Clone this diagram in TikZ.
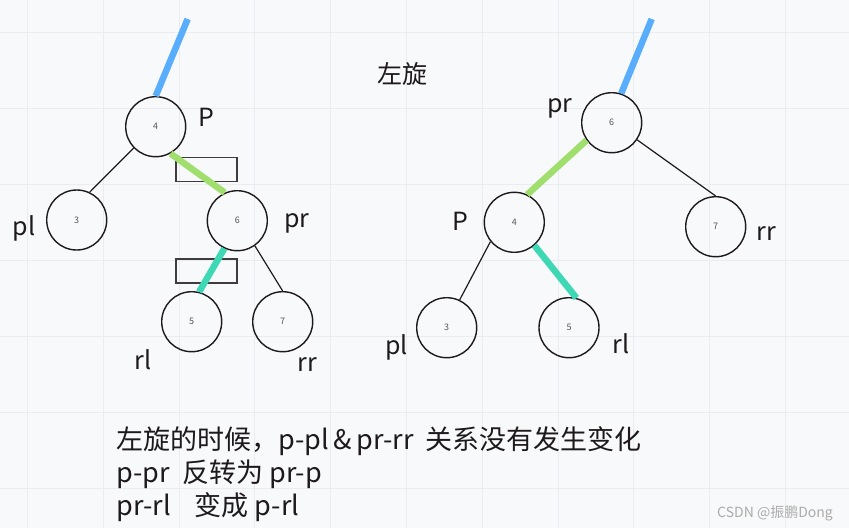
\documentclass[tikz,border=0pt]{standalone}
\usepackage{fontspec}
\setmainfont{Noto Sans CJK SC}
\usepackage{tikz}
\usetikzlibrary{positioning}
\definecolor{ink}{RGB}{30,26,28}
\definecolor{paper}{RGB}{248,249,251}
\definecolor{gridc}{RGB}{234,236,240}
\definecolor{numc}{RGB}{85,85,90}
\definecolor{blu}{RGB}{88,174,252}
\definecolor{grn}{RGB}{160,222,110}
\definecolor{tea}{RGB}{62,216,180}

\begin{document}
\begin{tikzpicture}[x=1pt,y=-1pt,
 nd/.style={circle,draw=ink,line width=1.4pt,minimum size=60pt,inner sep=0pt,font=\fontsize{9}{9}\selectfont,text=numc},
 lbl/.style={font=\fontsize{25}{25}\selectfont,text=ink,inner sep=0pt},
 edge/.style={draw=ink,line width=1.2pt},
 thk/.style={line width=6.5pt},
 mark box/.style={draw=ink!85,line width=1.4pt,minimum width=61pt,minimum height=24pt,inner sep=0pt},
 txt/.style={font=\fontsize{27}{27}\selectfont,text=ink,anchor=base west,inner sep=0pt}]
 \fill[paper] (0,0) rectangle (849,528);
 \useasboundingbox (0,0) rectangle (849,528);
 \foreach \x in {27,103,179,254,330,406,482,558,633,709,785}
   \draw[gridc,line width=0.8pt] (\x,0) -- (\x,528);
 \foreach \y in {32,108,184,260,336,412,488}
   \draw[gridc,line width=0.8pt] (0,\y) -- (849,\y);

 % before: left tree
 \node[nd] (l4) at (155.7,126.7){4};
 \node[nd] (l3) at (76.7,220){3};
 \node[nd] (l6) at (237.3,220.7){6};
 \node[nd] (l5) at (191.7,321.7){5};
 \node[nd] (l7) at (282.7,321.7){7};
 \node[mark box] (b1) at (206.3,169.7){};
 \node[mark box] (b2) at (206.3,270.8){};
 \coordinate (ltop) at (187.7,19);
 \draw[blu,thk] (ltop) -- (l4.90);
 \draw[grn,thk] (l4.-61) -- (l6.114);
 \draw[tea,thk] (l6.-115) -- (l5.76);
 \draw[edge] (l4.-136) -- (l3.65);
 \draw[edge] (l6.-55) -- (l7.90);
 \node[lbl] (lP) at (206.7,117.5){P};
 \node[lbl] (lpl) at (24,228.5){pl};
 \node[lbl] (lpr) at (296.7,223){pr};
 \node[lbl] (lrl) at (142.7,360){rl};
 \node[lbl] (lrr) at (307,364.5){rr};

 \node[font=\fontsize{25}{25}\selectfont,text=ink] (ttl) at (402,74){左旋};

 % after: right tree
 \node[nd] (r6) at (611.7,122.7){6};
 \node[nd] (r4) at (514.3,222.3){4};
 \node[nd] (r7) at (715.7,226.7){7};
 \node[nd] (r3) at (446.7,327.7){3};
 \node[nd] (r5) at (569,327.7){5};
 \coordinate (rtop) at (651.7,19);
 \draw[blu,thk] (rtop) -- (r6.72);
 \draw[grn,thk] (r6.-145) -- (r4.65);
 \draw[tea,thk] (r4.-49) -- (r5.76);
 \draw[edge] (r6.-34) -- (r7.90);
 \draw[edge] (r4.-141) -- (r3.65);
 \node[lbl] (rpr) at (560,108){pr};
 \node[lbl] (rP) at (460,221.5){P};
 \node[lbl] (rrr) at (766,233.5){rr};
 \node[lbl] (rrl) at (621,343.5){rl};
 \node[lbl] (rpl) at (396.7,347){pl};

 \node[txt] (t1) at (116.5,449){左旋的时候，p-pl\,\&\,pr-rr\ \ 关系没有发生变化};
 \node[txt] (t2) at (116.5,482){p-pr\ \ 反转为 pr-p};
 \node[txt] (t3) at (116.5,515){pr-rl\ \ \ \ 变成 p-rl};
 \node[font=\fontsize{14}{14}\selectfont,text=black!33,anchor=base east,inner sep=0pt] (wm) at (833,517){CSDN @振鹏Dong};
\end{tikzpicture}
\end{document}
